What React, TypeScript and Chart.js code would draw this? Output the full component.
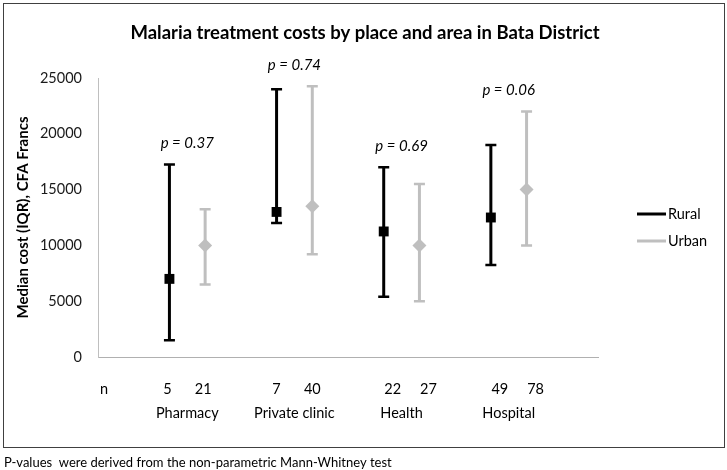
import React, { useEffect, useRef } from "react";
import { Chart, registerables } from "chart.js";

Chart.register(...registerables);

// ---- data ----
const categories = ["Pharmacy", "Private clinic", "Health", "Hospital"];
const ruralX = [2, 5, 8, 11];
const urbanX = [3, 6, 9, 12];
const ruralMedian = [7000, 13000, 11250, 12500];
const ruralQ1 = [1500, 12000, 5400, 8250];
const ruralQ3 = [17250, 24000, 17000, 19000];
const urbanMedian = [10000, 13500, 10000, 15000];
const urbanQ1 = [6500, 9200, 5000, 10000];
const urbanQ3 = [13250, 24250, 15500, 22000];
const ruralN = ["5", "7", "22", "49"];
const urbanN = ["21", "40", "27", "78"];
const pValues = ["0.37", "0.74", "0.69", "0.06"];
const seriesNames = ["Rural", "Urban"];

const TITLE = "Malaria treatment costs by place and area in Bata District";
const Y_TITLE = "Median cost (IQR), CFA Francs";
const FOOTNOTE = "P-values  were derived from the non-parametric Mann-Whitney test";

const FONT = "Lato";
const RURAL_COLOR = "#000000";
const URBAN_COLOR = "#bfbfbf";
const nOffsets = [-2, 0, 9, 9];

const overlay = {
  id: "overlay",
  beforeDraw(chart: any) {
    const ctx = chart.ctx;
    ctx.save();
    ctx.fillStyle = "#ffffff";
    ctx.fillRect(0, 0, chart.width, chart.height);
    ctx.restore();
  },
  beforeDatasetsDraw(chart: any) {
    const ctx = chart.ctx;
    const xs = chart.scales.x;
    const ys = chart.scales.y;
    const series = [
      { x: ruralX, lo: ruralQ1, hi: ruralQ3, color: RURAL_COLOR },
      { x: urbanX, lo: urbanQ1, hi: urbanQ3, color: URBAN_COLOR },
    ];
    ctx.save();
    for (const s of series) {
      ctx.strokeStyle = s.color;
      for (let i = 0; i < s.x.length; i++) {
        const px = xs.getPixelForValue(s.x[i]);
        const yl = ys.getPixelForValue(s.lo[i]);
        const yh = ys.getPixelForValue(s.hi[i]);
        ctx.lineWidth = 3;
        ctx.beginPath();
        ctx.moveTo(px, yl);
        ctx.lineTo(px, yh);
        ctx.stroke();
        ctx.lineWidth = 2.5;
        ctx.beginPath();
        ctx.moveTo(px - 5.5, yl);
        ctx.lineTo(px + 5.5, yl);
        ctx.moveTo(px - 5.5, yh);
        ctx.lineTo(px + 5.5, yh);
        ctx.stroke();
      }
    }
    ctx.restore();
  },
  afterDraw(chart: any) {
    const ctx = chart.ctx;
    const xs = chart.scales.x;
    const ys = chart.scales.y;
    const area = chart.chartArea;
    ctx.save();
    ctx.fillStyle = "#000";
    ctx.textBaseline = "middle";

    // title
    ctx.font = `bold 18.5px ${FONT}`;
    ctx.textAlign = "center";
    ctx.fillText(TITLE, 365, 33);

    // p-value labels
    ctx.font = `italic 15px ${FONT}`;
    for (let i = 0; i < categories.length; i++) {
      const cx = xs.getPixelForValue((ruralX[i] + urbanX[i]) / 2);
      const top = ys.getPixelForValue(Math.max(ruralQ3[i], urbanQ3[i]));
      ctx.fillText(`p = ${pValues[i]}`, cx, top - 21);
    }

    // n row and category labels
    ctx.font = `14.5px ${FONT}`;
    ctx.textAlign = "center";
    ctx.fillText("n", area.left + 6, 389);
    for (let i = 0; i < categories.length; i++) {
      ctx.fillText(ruralN[i], xs.getPixelForValue(ruralX[i]) + nOffsets[i], 389);
      ctx.fillText(urbanN[i], xs.getPixelForValue(urbanX[i]) + nOffsets[i], 389);
      const cx = xs.getPixelForValue((ruralX[i] + urbanX[i]) / 2);
      ctx.fillText(categories[i], cx, 413);
    }

    // legend
    const legendY = [214, 241];
    const legendColors = [RURAL_COLOR, URBAN_COLOR];
    ctx.textAlign = "left";
    ctx.font = `14.5px ${FONT}`;
    for (let i = 0; i < seriesNames.length; i++) {
      ctx.strokeStyle = legendColors[i];
      ctx.lineWidth = 3;
      ctx.beginPath();
      ctx.moveTo(637, legendY[i]);
      ctx.lineTo(666, legendY[i]);
      ctx.stroke();
      ctx.fillStyle = "#000";
      ctx.fillText(seriesNames[i], 668, legendY[i]);
    }

    // border
    ctx.strokeStyle = "#404040";
    ctx.lineWidth = 1;
    ctx.strokeRect(3.5, 3.5, 721, 444);

    // footnote
    ctx.font = `13px ${FONT}`;
    ctx.fillStyle = "#000";
    ctx.textAlign = "left";
    ctx.fillText(FOOTNOTE, 4, 463);
    ctx.restore();
  },
};

export default function App() {
  const ref = useRef<HTMLCanvasElement | null>(null);
  useEffect(() => {
    if (!ref.current) return;
    const chart = new Chart(ref.current, {
      type: "scatter",
      data: {
        datasets: [
          {
            label: seriesNames[0],
            data: ruralX.map((x, i) => ({ x, y: ruralMedian[i] })),
            pointStyle: "rect",
            pointRadius: 7,
            pointBackgroundColor: RURAL_COLOR,
            pointBorderWidth: 0,
            showLine: false,
          },
          {
            label: seriesNames[1],
            data: urbanX.map((x, i) => ({ x, y: urbanMedian[i] })),
            pointStyle: "rectRot",
            pointRadius: 7,
            pointBackgroundColor: URBAN_COLOR,
            pointBorderWidth: 0,
            showLine: false,
          },
        ],
      },
      options: {
        responsive: false,
        animation: false,
        devicePixelRatio: 1,
        layout: { padding: { left: 8, top: 78, right: 129, bottom: 113 } },
        plugins: {
          legend: { display: false },
          title: { display: false },
          tooltip: { enabled: false },
        },
        scales: {
          x: {
            type: "linear",
            min: 0,
            max: 14,
            grid: { display: false, drawTicks: false },
            border: { display: true, color: "#b0b0b0", width: 1 },
            ticks: { display: false },
            afterFit: (s: any) => {
              s.height = 0;
            },
          },
          y: {
            min: 0,
            max: 25000,
            grid: { display: false, drawTicks: false },
            border: { display: true, color: "#bfbfbf", width: 1 },
            ticks: {
              stepSize: 5000,
              padding: 16,
              color: "#1a1a1a",
              font: { family: FONT, size: 14.5 },
              callback: (v: any) => String(v),
            },
            title: {
              display: true,
              text: Y_TITLE,
              color: "#000",
              font: { family: FONT, size: 15, weight: "bold" },
              padding: { top: 6, bottom: 0 },
            },
            afterFit: (s: any) => {
              s.width = 90;
            },
          },
        },
      },
      plugins: [overlay],
    } as any);
    return () => chart.destroy();
  }, []);
  return (
    <div style={{ position: "absolute", left: 0, top: 0, width: 727, height: 470, background: "#fff" }}>
      <canvas ref={ref} width={727} height={470} />
    </div>
  );
}
